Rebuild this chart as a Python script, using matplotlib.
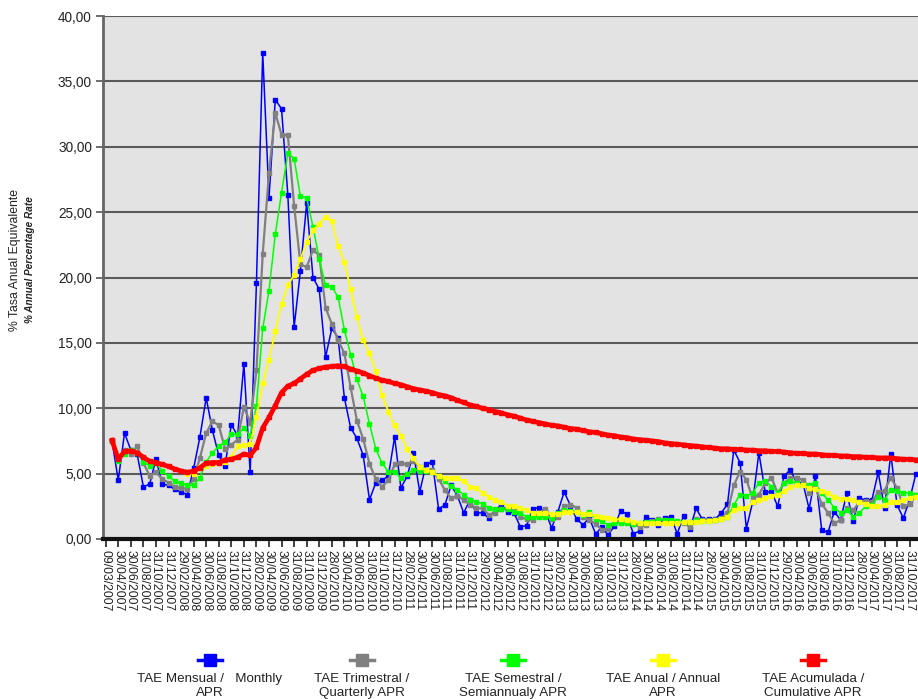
import numpy as np
import pandas as pd
import matplotlib
matplotlib.use("Agg")
import matplotlib.pyplot as plt
from matplotlib.lines import Line2D

plt.rcParams["font.family"] = ["Liberation Sans", "DejaVu Sans"]

# monthly values, index 1 = 31/03/2007 ... index 129
monthly = [7.5, 4.5, 8.1, 6.8, 6.5, 4.0, 4.2, 6.1, 4.2, 4.1, 3.8, 3.6, 3.4, 5.4, 7.8, 10.8, 8.3, 6.4, 5.6, 8.75,
           7.9, 13.4, 5.1, 19.6, 37.2, 26.1, 33.6, 32.9, 26.3, 16.2, 20.5, 25.7, 20.0, 19.1, 13.9, 16.1, 15.4, 10.8, 8.5, 7.7,
           6.4, 3.0, 4.3, 4.5, 4.8, 7.8, 3.9, 4.8, 6.6, 3.6, 5.7, 5.9, 2.3, 2.6, 4.1, 3.3, 2.0, 3.0, 2.0, 2.0,
           1.6, 2.2, 2.6, 2.1, 2.0, 0.95, 1.0, 2.3, 2.4, 2.1, 0.85, 2.1, 3.6, 2.55, 1.5, 1.1, 1.6, 0.4, 0.9, 0.3,
           1.0, 2.15, 1.9, 0.4, 0.6, 1.7, 1.45, 1.1, 1.6, 1.7, 0.4, 1.75, 0.75, 2.35, 1.5, 1.5, 1.5, 2.0, 2.65, 6.8,
           5.85, 0.8, 2.8, 6.6, 3.6, 3.6, 2.5, 4.8, 5.3, 4.3, 4.3, 2.3, 4.85, 0.7, 0.5, 2.1, 1.45, 3.5, 1.4, 3.1,
           3.0, 3.0, 5.1, 2.35, 6.5, 2.6, 1.6, 3.0, 5.0]
quarterly = [7.5, 6.2, 6.8, 6.5, 7.1, 5.8, 4.85, 5.1, 4.6, 4.3, 4.0, 3.9, 3.85, 4.6, 6.2, 8.1, 9.0, 8.7, 6.9, 7.2,
             7.6, 10.1, 8.9, 12.9, 21.8, 28.0, 32.6, 30.9, 30.9, 25.5, 21.0, 20.8, 22.1, 21.7, 17.7, 16.45, 15.2, 14.2, 11.6, 9.05,
             7.65, 5.75, 4.6, 4.0, 4.5, 5.7, 5.8, 5.7, 6.0, 5.5, 5.3, 5.3, 4.6, 3.75, 3.1, 3.3, 3.0, 2.6, 2.35, 2.35,
             1.85, 2.0, 2.3, 2.35, 2.3, 1.7, 1.5, 1.45, 2.0, 2.3, 1.5, 1.7, 2.5, 2.6, 2.4, 1.7, 1.45, 1.15, 0.7, 0.8,
             1.2, 1.45, 1.45, 1.15, 0.95, 1.05, 1.4, 1.5, 1.45, 1.3, 1.2, 1.25, 0.95, 1.5, 1.45, 1.45, 1.45, 1.6, 2.0, 4.1,
             5.15, 4.55, 3.1, 3.4, 4.25, 4.7, 3.5, 4.25, 4.65, 4.7, 4.5, 3.5, 3.9, 2.7, 2.0, 1.2, 1.45, 2.35, 2.2, 2.8,
             2.9, 2.85, 3.6, 3.7, 4.7, 3.9, 2.5, 2.65, 3.4]
semiannual = [7.5, 6.0, 6.5, 6.8, 6.6, 5.9, 5.6, 5.8, 5.2, 4.8, 4.4, 4.3, 4.1, 4.1, 4.7, 5.9, 6.6, 7.1, 7.4, 8.0,
              8.0, 8.5, 7.9, 10.2, 16.1, 19.0, 23.3, 26.5, 29.5, 29.1, 26.2, 26.1, 23.9, 21.4, 19.4, 19.3, 18.5, 16.0, 14.1, 12.2,
              10.9, 8.8, 6.9, 5.8, 5.15, 5.15, 4.7, 5.0, 5.3, 5.2, 5.2, 5.1, 4.8, 4.4, 4.05, 3.75, 3.4, 3.0, 2.85, 2.7,
              2.35, 2.3, 2.3, 2.3, 2.1, 2.0, 1.7, 1.7, 1.7, 1.7, 1.6, 2.0, 2.2, 2.15, 2.05, 1.8, 2.1, 1.55, 1.35, 1.07,
              1.2, 1.2, 1.2, 1.15, 1.2, 1.3, 1.3, 1.45, 1.45, 1.45, 1.4, 1.3, 1.3, 1.45, 1.4, 1.4, 1.45, 1.5, 1.7, 2.6,
              3.4, 3.3, 3.5, 4.3, 4.45, 4.0, 3.55, 4.25, 4.45, 4.25, 4.1, 4.1, 4.25, 3.5, 3.0, 2.4, 2.0, 2.2, 1.7, 2.0,
              2.5, 2.6, 3.25, 3.0, 3.75, 3.7, 3.55, 3.5, 3.4]
# annual starts at index 13 (31/03/2008)
annual = [np.nan] * 12 + [
    5.0, 5.0, 5.5, 5.6, 5.7, 5.8, 5.9, 6.25,
    7.1, 7.2, 7.3, 9.3, 11.9, 13.7, 15.9, 18.0, 19.4, 20.2, 21.4, 22.7, 23.6, 24.1, 24.65, 24.3, 22.4, 21.2, 19.1, 16.95,
    15.2, 14.2, 12.85, 11.0, 9.75, 8.7, 7.9, 6.9, 6.2, 5.5, 5.3, 5.15, 4.8, 4.7, 4.7, 4.65, 4.45, 4.0, 3.9, 3.55,
    3.2, 3.0, 2.85, 2.55, 2.5, 2.35, 2.2, 2.0, 2.0, 2.0, 1.9, 1.9, 2.05, 2.05, 2.05, 1.95, 1.9, 1.75, 1.7, 1.6,
    1.5, 1.5, 1.45, 1.3, 1.25, 1.25, 1.25, 1.25, 1.2, 1.25, 1.25, 1.27, 1.27, 1.3, 1.4, 1.4, 1.45, 1.5, 1.7, 2.25,
    2.35, 2.4, 2.8, 3.0, 3.15, 3.3, 3.35, 3.7, 4.0, 4.1, 4.1, 3.9, 3.8, 3.7, 3.5, 3.25, 3.05, 3.05, 3.0, 2.85,
    2.7, 2.5, 2.5, 2.6, 2.8, 2.85, 3.0, 3.1, 3.25]
cumulative = [7.55, 6.1, 6.7, 6.75, 6.6, 6.25, 5.95, 5.85, 5.7, 5.55, 5.35, 5.2, 5.1, 5.2, 5.45, 5.8, 5.85, 5.85, 6.05, 6.1,
              6.25, 6.5, 6.4, 7.0, 8.5, 9.3, 10.2, 11.2, 11.7, 11.9, 12.25, 12.6, 12.9, 13.05, 13.15, 13.2, 13.25, 13.2, 13.0, 12.85,
              12.7, 12.5, 12.3, 12.15, 12.05, 11.9, 11.8, 11.65, 11.5, 11.4, 11.3, 11.2, 11.05, 10.95, 10.8, 10.6, 10.45, 10.25, 10.15, 10.0,
              9.9, 9.75, 9.65, 9.5, 9.4, 9.25, 9.1, 9.0, 8.9, 8.8, 8.7, 8.65, 8.55, 8.45, 8.4, 8.3, 8.2, 8.15, 8.05, 7.95,
              7.9, 7.8, 7.75, 7.65, 7.6, 7.55, 7.5, 7.45, 7.35, 7.3, 7.25, 7.2, 7.15, 7.1, 7.05, 7.0, 6.95, 6.9, 6.9, 6.85,
              6.85, 6.8, 6.8, 6.75, 6.75, 6.7, 6.7, 6.65, 6.6, 6.55, 6.55, 6.5, 6.5, 6.45, 6.4, 6.4, 6.35, 6.35, 6.3, 6.3,
              6.25, 6.25, 6.2, 6.2, 6.2, 6.15, 6.1, 6.1, 6.05]

date_labels = ["09/03/2007"] + [d.strftime("%d/%m/%Y")
                                for d in pd.date_range("2007-03-31", periods=130, freq="ME")]

series = [
    ("TAE Mensual /   Monthly\nAPR", monthly, "#0000FF", 1.1, 2.8),
    ("TAE Trimestral /\nQuarterly APR", quarterly, "#808080", 1.6, 3.2),
    ("TAE Semestral /\nSemiannualy APR", semiannual, "#00FF00", 1.1, 2.8),
    ("TAE Anual / Annual\nAPR", annual, "#FFFF00", 1.3, 3.0),
    ("TAE Acumulada /\nCumulative APR", cumulative, "#FF0000", 3.4, 3.4),
]

W, H = 918, 699
fig = plt.figure(figsize=(W / 100, H / 100), dpi=100)
ax = fig.add_axes([103 / W, 1 - 539 / H, 882 / W, 523 / H])
ax.set_facecolor("#E3E3E3")

x = np.arange(1, len(monthly) + 1)
for label, vals, color, lw, ms in series:
    ax.plot(x, vals, color=color, lw=lw, marker="s", ms=ms, mec=color, mfc=color)

ax.set_ylim(0, 40)
ax.set_xlim(-0.43, 140)
yt = np.arange(0, 41, 5)
ax.set_yticks(yt)
ax.set_yticklabels([f"{v:.2f}".replace(".", ",") for v in yt], fontsize=9.8, color="#222222")
for v in yt[1:]:
    ax.axhline(v, color="#5a5a5a", lw=1.5, zorder=0.5)

ticks = np.arange(0, 131, 2)
ax.set_xticks(ticks)
ax.set_xticklabels([date_labels[t] for t in ticks], rotation=-90, fontsize=8.8, color="#222222")
ax.tick_params(axis="x", length=6, width=1.2, color="#222222", pad=2)
ax.tick_params(axis="y", length=5, width=1.2, color="#555555", pad=3)

for s in ["top", "right"]:
    ax.spines[s].set_visible(False)
ax.spines["left"].set_color("#666666")
ax.spines["left"].set_linewidth(2)
ax.spines["bottom"].set_color("#111111")
ax.spines["bottom"].set_linewidth(3)

fig.text(15 / W, 1 - 260 / H, "% Tasa Anual Equivalente", rotation=90,
         fontsize=8.8, ha="center", va="center", color="#222222")
fig.text(30 / W, 1 - 260 / H, "% Annual Percentage Rate", rotation=90,
         fontsize=7.2, fontweight="bold", fontstyle="italic", ha="center", va="center", color="#222222")

# legend below the plot
centers = [210, 362, 513, 663, 813]
for cx, (label, vals, color, lw, ms) in zip(centers, series):
    fig.add_artist(Line2D([(cx - 12) / W, (cx + 12) / W], [1 - 660 / H] * 2,
                          transform=fig.transFigure, color=color, lw=2.5))
    fig.add_artist(Line2D([cx / W], [1 - 660 / H], transform=fig.transFigure,
                          marker="s", ms=8, color=color, mec=color))
    fig.text(cx / W, 1 - 673 / H, label, fontsize=9.6, ha="center", va="top",
             multialignment="center", color="#222222", linespacing=1.2)

fig.savefig("out.png", dpi=100)
